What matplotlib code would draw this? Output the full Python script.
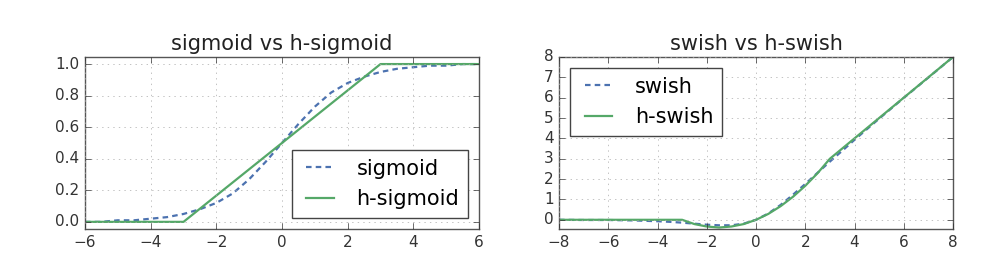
import matplotlib
matplotlib.use('Agg')
import matplotlib.pyplot as plt

# sigmoid vs h-sigmoid
sig_x = [-6, -5.5, -5, -4.5, -4, -3.5, -3, -2.5, -2, -1.5, -1, -0.5, 0,
         0.5, 1, 1.5, 2, 2.5, 3, 3.5, 4, 4.5, 5, 5.5, 6]
sig_y = [0.00, 0.00, 0.01, 0.01, 0.02, 0.03, 0.05, 0.08, 0.12, 0.18, 0.27, 0.38, 0.50,
         0.62, 0.73, 0.82, 0.88, 0.92, 0.95, 0.97, 0.98, 0.99, 0.99, 1.00, 1.00]
hsig_x = [-6, -3, 3, 6]
hsig_y = [0.0, 0.0, 1.0, 1.0]

# swish vs h-swish
sw_x = [-8, -7, -6, -5, -4.5, -4, -3.5, -3, -2.5, -2, -1.5, -1, -0.5, 0,
        0.5, 1, 1.5, 2, 2.5, 3, 3.5, 4, 5, 6, 7, 8]
sw_y = [0.00, -0.01, -0.01, -0.03, -0.05, -0.07, -0.10, -0.14, -0.19, -0.24, -0.27, -0.27, -0.19, 0.00,
        0.31, 0.73, 1.23, 1.76, 2.31, 2.86, 3.39, 3.93, 4.97, 5.99, 6.99, 8.00]
hsw_x = [-8, -3, -2.5, -2, -1.5, -1, -0.5, 0, 0.5, 1, 1.5, 2, 2.5, 3, 8]
hsw_y = [0.0, 0.0, -0.21, -0.33, -0.38, -0.33, -0.21, 0.0, 0.29, 0.67, 1.13, 1.67, 2.29, 3.0, 8.0]

blue = '#4c72b0'
green = '#55a868'

plt.style.use('classic')
plt.rcParams['font.family'] = ['DejaVu Sans']

fig = plt.figure(figsize=(10, 2.65), dpi=100, facecolor='white')
ax1 = fig.add_axes([0.085, 0.136, 0.394, 0.649])
ax2 = fig.add_axes([0.559, 0.136, 0.394, 0.649])

ax1.plot(sig_x, sig_y, '--', color=blue, lw=1.6, dashes=(4, 3), label='sigmoid')
ax1.plot(hsig_x, hsig_y, '-', color=green, lw=1.6, label='h-sigmoid')
ax1.set_xlim(-6, 6)
ax1.set_ylim(-0.045, 1.045)
ax1.set_xticks([-6, -4, -2, 0, 2, 4, 6])
ax1.set_yticks([0.0, 0.2, 0.4, 0.6, 0.8, 1.0])
ax1.set_title('sigmoid vs h-sigmoid', fontsize=15, color='#222222')
ax1.legend(loc='lower right', fontsize=15, handlelength=1.9, borderaxespad=0.55)

ax2.plot(sw_x, sw_y, '--', color=blue, lw=1.6, dashes=(4, 3), label='swish')
ax2.plot(hsw_x, hsw_y, '-', color=green, lw=1.6, label='h-swish')
ax2.set_xlim(-8, 8)
ax2.set_ylim(-0.45, 8)
ax2.set_xticks([-8, -6, -4, -2, 0, 2, 4, 6, 8])
ax2.set_yticks(range(0, 9))
ax2.set_title('swish vs h-swish', fontsize=15, color='#222222')
ax2.legend(loc='upper left', fontsize=15, handlelength=1.9, borderaxespad=0.55)

for ax in (ax1, ax2):
    ax.grid(True, linestyle=':', color='#aaaaaa')
    ax.tick_params(labelsize=11, colors='#333333')
    for s in ax.spines.values():
        s.set_color('#555555')
    ax.get_legend().get_frame().set_edgecolor('#444444')

fig.savefig('out.png', dpi=100, facecolor='white')
